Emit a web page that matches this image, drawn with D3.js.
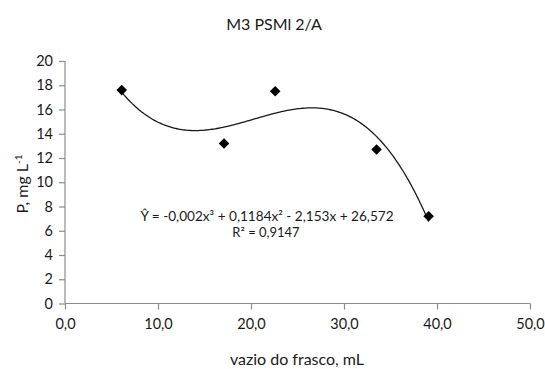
<!DOCTYPE html>
<html>
<head>
<meta charset="utf-8">
<script src="https://cdn.jsdelivr.net/npm/d3@7"></script>
<style>
  html, body { margin: 0; padding: 0; background: #fff; }
  svg { display: block; font-family: Lato, "Open Sans", sans-serif; }
</style>
</head>
<body>
<svg id="chart" width="545" height="369"></svg>
<script>
// Observations: headspace volume (mL) vs. P concentration (mg L-1)
const vazio = [6.1, 17.1, 22.6, 33.5, 39.1];
const fosforo = [17.6, 13.2, 17.5, 12.7, 7.2];

const xTicks = [0, 10, 20, 30, 40, 50];
const yTicks = [0, 2, 4, 6, 8, 10, 12, 14, 16, 18, 20];

const titulo = "M3 PSMl 2/A";
const eixoX = "vazio do frasco, mL";
const equacao = "Ŷ = -0,002x³ + 0,1184x² - 2,153x + 26,572";
const r2 = "R² = 0,9147";

const svg = d3.select("#chart");
const x = d3.scaleLinear().domain([0, 50]).range([65, 530]);
const y = d3.scaleLinear().domain([0, 20]).range([303.5, 61]);

const fmt = d => d.toFixed(1).replace(".", ",");
const axisColor = "#8c8c8c";
const textColor = "#1a1a1a";

// x axis
const gx = svg.append("g")
  .attr("transform", `translate(0,${y(0)})`)
  .call(d3.axisBottom(x).tickValues(xTicks).tickFormat(fmt).tickSizeOuter(0).tickSize(6).tickPadding(9));
// y axis
const gy = svg.append("g")
  .attr("transform", `translate(${x(0)},0)`)
  .call(d3.axisLeft(y).tickValues(yTicks).tickSizeOuter(0).tickSize(6).tickPadding(6));

[gx, gy].forEach(g => {
  g.select(".domain").attr("stroke", axisColor).attr("stroke-width", 1.2);
  g.selectAll(".tick line").attr("stroke", axisColor).attr("stroke-width", 1.2);
  g.selectAll(".tick text").attr("fill", textColor)
    .style("font-family", "Lato, sans-serif").style("font-size", "14.5px");
});
// plain axis lines without end caps
gx.select(".domain").attr("d", `M${x(0)},0H${x(50)}`);
gy.select(".domain").attr("d", `M0,${y(20)}V${y(0)}`);

// cubic least-squares trendline
function polyfit(xs, ys, deg) {
  const n = deg + 1;
  const A = Array.from({length: n}, () => new Array(n + 1).fill(0));
  for (let k = 0; k < xs.length; k++) {
    for (let i = 0; i < n; i++) {
      for (let j = 0; j < n; j++) A[i][j] += Math.pow(xs[k], i + j);
      A[i][n] += ys[k] * Math.pow(xs[k], i);
    }
  }
  for (let i = 0; i < n; i++) {
    let p = i;
    for (let r = i + 1; r < n; r++) if (Math.abs(A[r][i]) > Math.abs(A[p][i])) p = r;
    [A[i], A[p]] = [A[p], A[i]];
    for (let r = 0; r < n; r++) {
      if (r === i) continue;
      const f = A[r][i] / A[i][i];
      for (let c = i; c <= n; c++) A[r][c] -= f * A[i][c];
    }
  }
  return A.map((row, i) => row[n] / row[i]);
}
const coef = polyfit(vazio, fosforo, 3);
const fit = v => coef.reduce((s, c, i) => s + c * Math.pow(v, i), 0);

const x0 = d3.min(vazio), x1 = d3.max(vazio);
const curve = d3.range(0, 201).map(i => x0 + (x1 - x0) * i / 200);
svg.append("path")
  .datum(curve)
  .attr("fill", "none")
  .attr("stroke", "#1a1a1a")
  .attr("stroke-width", 1.3)
  .attr("d", d3.line().x(d => x(d)).y(d => y(fit(d))));

// data markers
const diamond = d3.symbol().type(d3.symbolSquare).size(56);
svg.append("g").selectAll("path")
  .data(vazio.map((v, i) => [v, fosforo[i]]))
  .join("path")
  .attr("d", diamond)
  .attr("fill", "#000")
  .attr("transform", d => `translate(${x(d[0])},${y(d[1])}) rotate(45)`);

// title
svg.append("text")
  .attr("x", 274).attr("y", 30)
  .attr("text-anchor", "middle")
  .attr("fill", textColor)
  .style("font-size", "16px")
  .text(titulo);

// x axis title
svg.append("text")
  .attr("x", 297).attr("y", 365)
  .attr("text-anchor", "middle")
  .attr("fill", textColor)
  .style("font-size", "16px")
  .text(eixoX);

// y axis title
const yl = svg.append("text")
  .attr("transform", "translate(28,184) rotate(-90)")
  .attr("text-anchor", "middle")
  .attr("fill", textColor)
  .style("font-size", "16px");
yl.append("tspan").text("P, mg L");
yl.append("tspan").attr("dy", -6).style("font-size", "10px").text("-1");

// regression annotation
svg.append("text")
  .attr("x", 267).attr("y", 221)
  .attr("text-anchor", "middle")
  .attr("fill", textColor)
  .style("font-size", "13.6px")
  .text(equacao);
svg.append("text")
  .attr("x", 266).attr("y", 237)
  .attr("text-anchor", "middle")
  .attr("fill", textColor)
  .style("font-size", "13px")
  .text(r2);
</script>
</body>
</html>
